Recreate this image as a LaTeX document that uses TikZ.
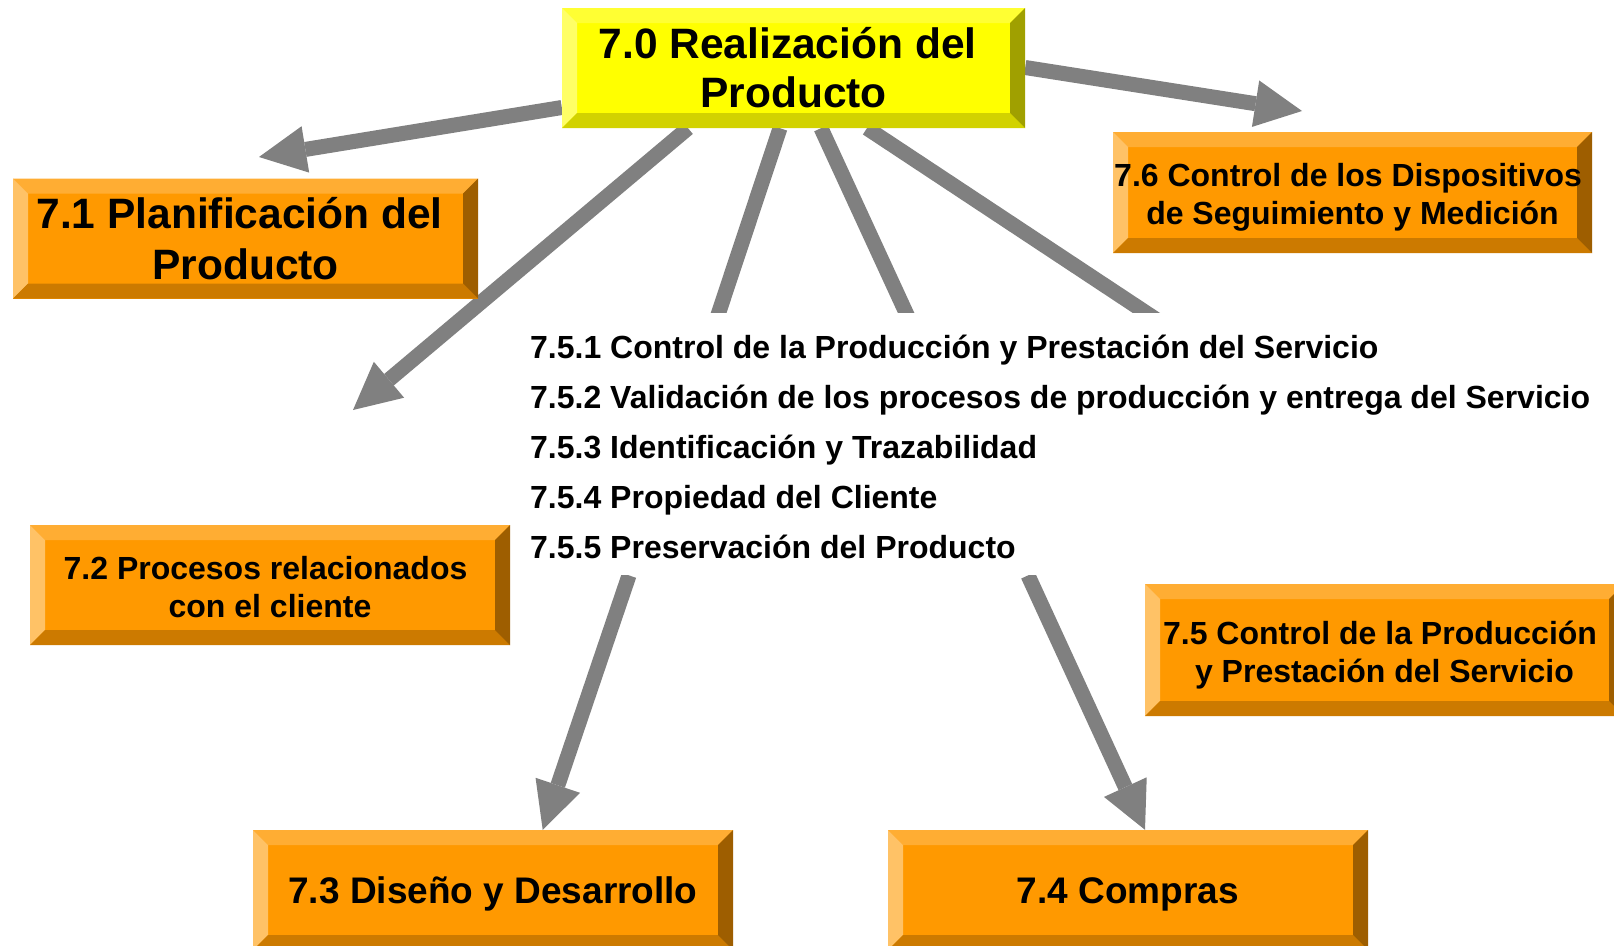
\documentclass[tikz,border=0pt]{standalone}
\usepackage{fontspec}
\setmainfont{Liberation Sans}
\usetikzlibrary{arrows.meta}
\definecolor{ofc}{HTML}{FF9900}
\definecolor{otop}{HTML}{FFAD33}
\definecolor{oleft}{HTML}{FFC266}
\definecolor{obot}{HTML}{CC7A00}
\definecolor{oright}{HTML}{9E5E00}
\definecolor{yfc}{HTML}{FFFF00}
\definecolor{ytop}{HTML}{FFFF33}
\definecolor{yleft}{HTML}{FFFF66}
\definecolor{ybot}{HTML}{D2D200}
\definecolor{yright}{HTML}{A0A000}
\definecolor{arr}{HTML}{808080}
\pgfdeclarelayer{bg}
\pgfsetlayers{bg,main}
\newcommand{\tsp}{\hspace*{.278em}}
\tikzset{
  bevbox/.style n args={5}{rectangle, inner sep=0pt, fill=#1, align=center,
    path picture={
      \coordinate (bnw) at (path picture bounding box.north west);
      \coordinate (bne) at (path picture bounding box.north east);
      \coordinate (bsw) at (path picture bounding box.south west);
      \coordinate (bse) at (path picture bounding box.south east);
      \fill[#2] (bnw) -- (bne) -- ([shift={(-15pt,-15pt)}]bne) -- ([shift={(15pt,-15pt)}]bnw) -- cycle;
      \fill[#3] (bnw) -- ([shift={(15pt,-15pt)}]bnw) -- ([shift={(15pt,15pt)}]bsw) -- (bsw) -- cycle;
      \fill[#4] (bsw) -- (bse) -- ([shift={(-15pt,15pt)}]bse) -- ([shift={(15pt,15pt)}]bsw) -- cycle;
      \fill[#5] (bne) -- (bse) -- ([shift={(-15pt,15pt)}]bse) -- ([shift={(-15pt,-15pt)}]bne) -- cycle;
    }},
  obox/.style={bevbox={ofc}{otop}{oleft}{obot}{oright}},
  ybox/.style={bevbox={yfc}{ytop}{yleft}{ybot}{yright}},
  bigtxt/.style={font=\fontsize{42.5pt}{49pt}\selectfont\bfseries},
  midtxt/.style={font=\fontsize{32pt}{38pt}\selectfont\bfseries, text height=66pt, text depth=2pt},
  comptxt/.style={font=\fontsize{37pt}{44pt}\selectfont\bfseries, text height=30pt, text depth=4pt},
  listtxt/.style={font=\fontsize{32pt}{38pt}\selectfont\bfseries, inner sep=0pt, anchor=base west},
  gline/.style={draw=arr, line width=15pt},
  garrow/.style={draw=arr, line width=15pt,
    -{Triangle[length=47pt 0 0, width=47pt 0 0, line width=0pt]}},
}
\begin{document}
\begin{tikzpicture}[x=1pt, y=-1pt]
\useasboundingbox (0,0) rectangle (1614,945);
\begin{pgfonlayer}{bg}
\fill[white] (0,0) rectangle (1614,945);
\end{pgfonlayer}

% boxes
\node[ybox, bigtxt, minimum width=463pt, minimum height=120pt] (Y) at (793.5,68) {7.0 Realización del\tsp\\Producto};
\node[obox, bigtxt, minimum width=465pt, minimum height=120pt, font=\fontsize{42.5pt}{51pt}\selectfont\bfseries] (P1) at (245.5,238.5) {7.1 Planificación del\tsp\\Producto};
\node[obox, midtxt, minimum width=479pt, minimum height=121pt] (P6) at (1352.5,192.5) {7.6 Control de los Dispositivos\tsp\\de Seguimiento y Medición};
\node[obox, midtxt, minimum width=480pt, minimum height=120pt] (P2) at (270,585) {7.2 Procesos relacionados\tsp\\con el cliente};
\node[obox, midtxt, minimum width=479pt, minimum height=132pt] (P5) at (1384.5,650) {7.5 Control de la Producción\tsp\\y Prestación del Servicio};
\node[obox, comptxt, minimum width=480pt, minimum height=120pt] (P3) at (493,890) {7.3 Diseño y Desarrollo};
\node[obox, comptxt, minimum width=480pt, minimum height=120pt] (P4) at (1128,890) {7.4 Compras};

% list of 7.5.x
\node[fill=white, inner sep=0pt, anchor=north west, minimum width=1085pt, minimum height=262.3pt] (list) at (520,312.7) {};
\node[listtxt] (l1) at (530,358) {7.5.1 Control de la Producción y Prestación del Servicio};
\node[listtxt] (l2) at (530,408) {7.5.2 Validación de los procesos de producción y entrega del Servicio};
\node[listtxt] (l3) at (530,458) {7.5.3 Identificación y Trazabilidad};
\node[listtxt] (l4) at (530,508) {7.5.4 Propiedad del Cliente};
\node[listtxt] (l5) at (530,558) {7.5.5 Preservación del Producto};

% free arrow ends
\coordinate (t1) at (259,157);
\coordinate (t2) at (353,410);
\coordinate (t8) at (1302,111);

\begin{pgfonlayer}{bg}
\draw[garrow] (Y.west |- 0,107.5) -- (t1);
\draw[garrow] (Y.south -| 688,0) -- (t2);
\draw[garrow] (Y.east |- 0,67.5) -- (t8);
\draw[gline, shorten >=-25pt] (Y.south -| 780,0) -- (list.north -| 718.7,0);
\draw[gline, shorten >=-25pt] (Y.south -| 821,0) -- (list.north -| 906,0);
\draw[gline, shorten >=-25pt] (Y.south -| 867,0) -- (list.north -| 1146,0);
\draw[garrow] (list.south -| 629,0) -- (P3.north -| 542.7,0);
\draw[garrow] (list.south -| 1028,0) -- (P4.north -| 1145,0);
\end{pgfonlayer}
\end{tikzpicture}
\end{document}
